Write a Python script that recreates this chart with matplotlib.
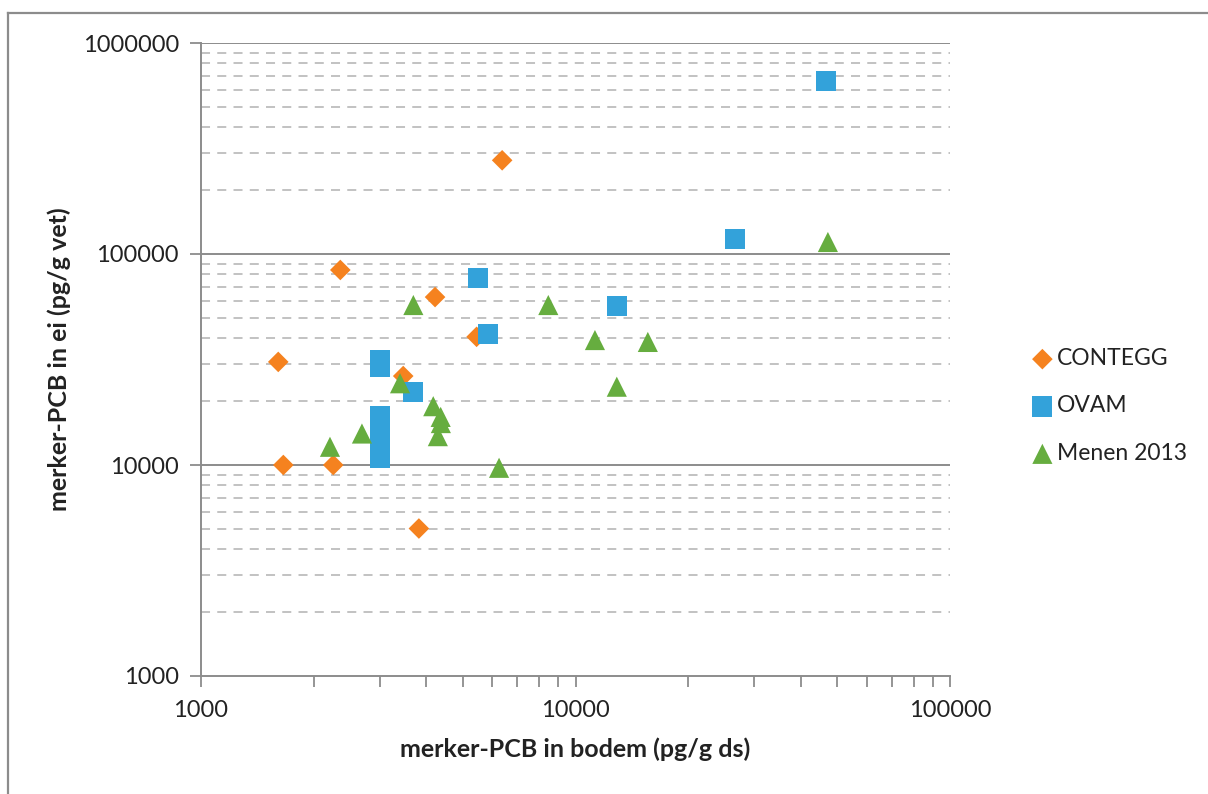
import matplotlib
matplotlib.use("Agg")
import matplotlib.pyplot as plt
from matplotlib.lines import Line2D
from matplotlib.ticker import LogLocator, FixedLocator, NullFormatter

plt.rcParams['font.family'] = ['Lato', 'DejaVu Sans']

# CONTEGG samples: soil (pg/g ds) vs egg (pg/g fat)
contegg_x = [6370, 2355, 4217, 5444, 1608, 3467, 1659, 2255, 3818]
contegg_y = [278000, 84000, 62500, 40500, 30800, 26400, 10000, 10000, 5000]

# OVAM samples
ovam_x = [46700, 26700, 5480, 5840, 12900, 3010, 3010, 3690, 3010, 3010, 3010, 3010, 3010]
ovam_y = [662000, 118000, 76700, 41800, 56800, 31500, 29100, 22200, 17100, 15500, 14000, 12400, 10800]

# Menen 2013 samples
menen_x = [47200, 8460, 11270, 15600, 12890, 3690, 3400, 4170, 4365, 4370, 4290, 2690, 2210, 6250]
menen_y = [114000, 57300, 39100, 38300, 23500, 57300, 24400, 19000, 16900, 15800, 13700, 14100, 12200, 9700]

series_names = ["CONTEGG", "OVAM", "Menen 2013"]
x_ticks = [1000, 10000, 100000]
y_ticks = [1000, 10000, 100000, 1000000]

orange = "#F5821F"
blue = "#33A2DA"
green = "#66AD3F"
axis_gray = "#8C8C8C"
grid_gray = "#BDBDBD"

fig = plt.figure(figsize=(12.08, 7.94), dpi=100)
ax = fig.add_axes([201 / 1208, 1 - 676 / 794, (950 - 201) / 1208, (676 - 43) / 794])

ax.set_xscale("log")
ax.set_yscale("log")
ax.set_xlim(x_ticks[0], x_ticks[-1])
ax.set_ylim(y_ticks[0], y_ticks[-1])

# horizontal gridlines: solid at decades, dashed in between
for v in y_ticks[1:-1]:
    ax.axhline(v, color=axis_gray, lw=1.4, zorder=1)
for dec in y_ticks[:-1]:
    for k in range(2, 10):
        ax.axhline(dec * k, color=grid_gray, lw=1.3, ls=(0, (5, 4)), zorder=1)
ax.axhline(y_ticks[-1], color=axis_gray, lw=1.4, zorder=1)

ax.scatter(contegg_x, contegg_y, marker="D", s=10.5 ** 2, color=orange, edgecolors="none",
           zorder=3, label=series_names[0])
ax.scatter(ovam_x, ovam_y, marker="s", s=14.5 ** 2, color=blue, edgecolors="none",
           zorder=4, label=series_names[1])
ax.scatter(menen_x, menen_y, marker="^", s=14.5 ** 2, color=green, edgecolors="none",
           zorder=5, label=series_names[2])

for side in ["top", "right"]:
    ax.spines[side].set_visible(False)
for side in ["left", "bottom"]:
    ax.spines[side].set_color(axis_gray)
    ax.spines[side].set_linewidth(1.4)

ax.xaxis.set_major_locator(FixedLocator(x_ticks))
ax.yaxis.set_major_locator(FixedLocator(y_ticks))
ax.set_xticklabels([str(v) for v in x_ticks])
ax.set_yticklabels([str(v) for v in y_ticks])
ax.xaxis.set_minor_locator(LogLocator(base=10, subs=range(2, 10)))
ax.xaxis.set_minor_formatter(NullFormatter())
ax.yaxis.set_minor_locator(FixedLocator([]))

ax.tick_params(axis="x", which="major", direction="out", length=8, width=1.3, color=axis_gray,
               labelsize=17, labelcolor="#222222", pad=9)
ax.tick_params(axis="x", which="minor", direction="out", length=8, width=1.3, color=axis_gray)
ax.tick_params(axis="y", which="major", direction="out", length=8, width=1.3, color=axis_gray,
               labelsize=17, labelcolor="#222222", pad=8)

ax.set_xlabel("merker-PCB in bodem (pg/g ds)", fontsize=18, fontweight="bold", color="#222222",
              labelpad=12)
ax.set_ylabel("merker-PCB in ei (pg/g vet)", fontsize=18, fontweight="bold", color="#222222",
              labelpad=8)

leg = fig.legend(loc="center left", bbox_to_anchor=(1008 / 1208, 1 - 406 / 794), frameon=False,
                 fontsize=16.5, handletextpad=0.05, labelspacing=1.15, handlelength=1.2,
                 scatterpoints=1)
for t in leg.get_texts():
    t.set_color("#222222")

# outer chart border
fig.add_artist(Line2D([8 / 1208, 8 / 1208], [0, 1 - 13 / 794], transform=fig.transFigure,
                      color=axis_gray, lw=1.6))
fig.add_artist(Line2D([8 / 1208, 1], [1 - 13 / 794, 1 - 13 / 794], transform=fig.transFigure,
                      color=axis_gray, lw=1.6))

fig.savefig("out.png", dpi=100)
